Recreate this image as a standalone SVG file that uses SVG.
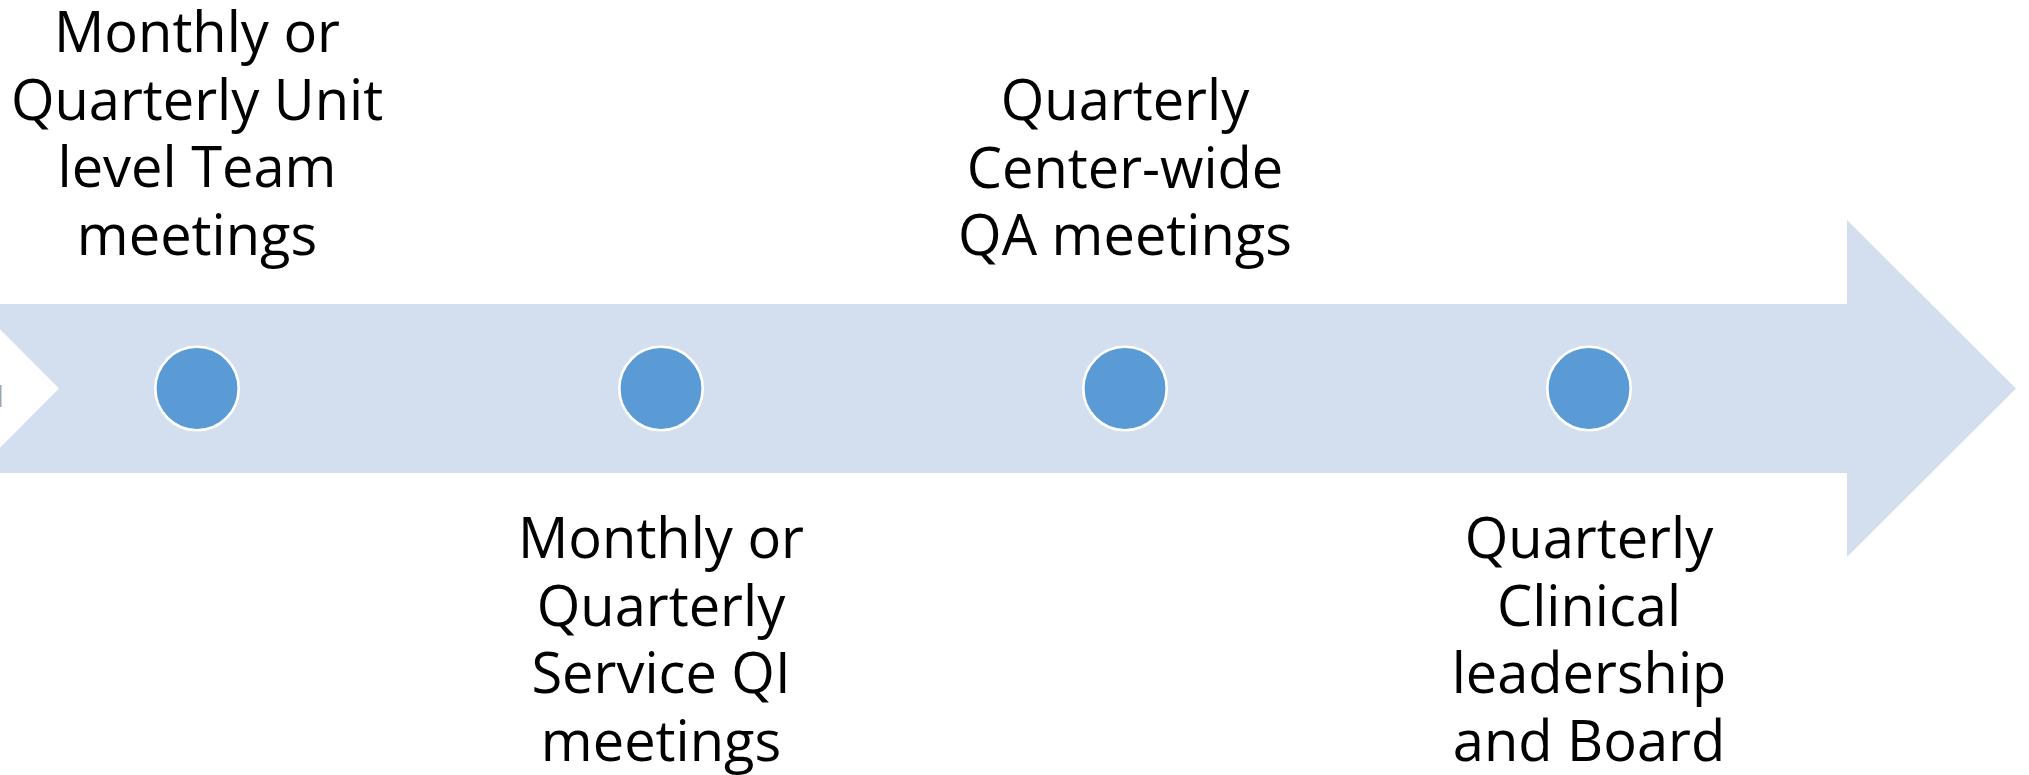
<svg xmlns="http://www.w3.org/2000/svg" width="2029" height="775" viewBox="0 0 2029 775">
  <style>
    .band { fill: #D3DEEF; }
    .dot { fill: #5B9BD5; stroke: #FFFFFF; stroke-width: 2.6; }
    .label { font-family: "Open Sans", "Liberation Sans", sans-serif; font-size: 56px; fill: #000000; text-anchor: middle; }
  </style>
  <rect width="2029" height="775" fill="#FFFFFF"/>
  <!-- timeline arrow with notched tail -->
  <g id="timeline">
    <path class="band" d="M -25 304 L 1847 304 L 1847 220 L 2016 388.5 L 1847 557 L 1847 473 L -25 473 L 59 388.5 Z"/>
    <rect x="0" y="385" width="1.5" height="22" fill="#9AA6B8"/>
  </g>
  <g id="connectors"></g>
  <g id="node-1">
    <circle class="dot" cx="197" cy="388.5" r="41.7"/>
    <text class="label"><tspan x="197" y="52">Monthly or</tspan><tspan x="197" y="120">Quarterly Unit</tspan><tspan x="197" y="187">level Team</tspan><tspan x="197" y="255">meetings</tspan></text>
  </g>
  <g id="node-2">
    <circle class="dot" cx="661" cy="388.5" r="41.7"/>
    <text class="label"><tspan x="661" y="558">Monthly or</tspan><tspan x="661" y="626">Quarterly</tspan><tspan x="661" y="693">Service QI</tspan><tspan x="661" y="761">meetings</tspan></text>
  </g>
  <g id="node-3">
    <circle class="dot" cx="1125" cy="388.5" r="41.7"/>
    <text class="label"><tspan x="1125" y="120">Quarterly</tspan><tspan x="1125" y="188">Center-wide</tspan><tspan x="1125" y="255">QA meetings</tspan></text>
  </g>
  <g id="node-4">
    <circle class="dot" cx="1589" cy="388.5" r="41.7"/>
    <text class="label"><tspan x="1589" y="558">Quarterly</tspan><tspan x="1589" y="626">Clinical</tspan><tspan x="1589" y="693">leadership</tspan><tspan x="1589" y="761">and Board</tspan></text>
  </g>
</svg>
